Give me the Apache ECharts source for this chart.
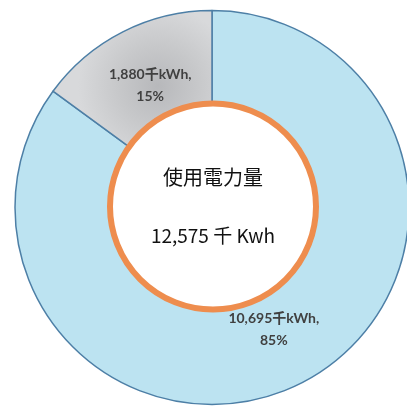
<!DOCTYPE html>
<html>
<head>
<meta charset="utf-8">
<script src="https://cdn.jsdelivr.net/npm/echarts@6/dist/echarts.min.js"></script>
<style>
  html, body { margin: 0; padding: 0; background: #ffffff; }
  #chart { width: 407px; height: 408px; }
</style>
</head>
<body>
<div id="chart"></div>
<script>
// Electricity use split into two sources (thousand kWh)
const categories = ['その他', '購入電力'];
const usage = [10695, 1880];
const centerTitle = '使用電力量';
const unitLabel = '千 Kwh';

const total = usage.reduce((a, b) => a + b, 0);
const fmt = n => n.toLocaleString('en-US');

// soft shading on the grey slice, in canvas pixels
const sliceColors = [
  '#bce3f1',
  {
    type: 'radial', x: 158, y: 86, r: 80, global: true,
    colorStops: [
      { offset: 0, color: '#b7b8bb' },
      { offset: 0.5, color: '#c7c8ca' },
      { offset: 1, color: '#d8d9db' }
    ]
  }
];

const chart = echarts.init(document.getElementById('chart'), null, { renderer: 'canvas' });
chart.setOption({
  animation: false,
  backgroundColor: '#ffffff',
  series: [
    {
      type: 'pie',
      center: [212, 207.5],
      radius: [70, 197],
      startAngle: 90,
      clockwise: true,
      percentPrecision: 0,
      silent: true,
      itemStyle: { borderColor: '#4d7fa6', borderWidth: 1.5 },
      label: {
        show: true,
        position: 'inside',
        color: '#404040',
        fontFamily: 'Lato, "Noto Sans CJK JP", sans-serif',
        fontWeight: 'bold',
        fontSize: 14,
        lineHeight: 22,
        formatter: p => fmt(p.value) + '千kWh,\n' + p.percent + '%'
      },
      labelLine: { show: false },
      data: categories.map((name, i) => ({
        name,
        value: usage[i],
        itemStyle: { color: sliceColors[i] }
      }))
    },
    {
      type: 'pie',
      center: [213, 206.5],
      radius: [0, 103],
      silent: true,
      itemStyle: { color: '#ffffff', borderColor: '#ee8d4e', borderWidth: 6 },
      label: {
        show: true,
        position: 'center',
        formatter: '{t|' + centerTitle + '}\n{v|' + fmt(total) + ' ' + unitLabel + '}',
        rich: {
          t: {
            fontFamily: '"Noto Sans CJK JP", sans-serif',
            fontSize: 20, color: '#111111', lineHeight: 58
          },
          v: {
            fontFamily: '"Noto Sans CJK JP", sans-serif',
            fontSize: 19, color: '#111111', lineHeight: 58
          }
        }
      },
      labelLine: { show: false },
      data: [{ name: centerTitle, value: total }]
    }
  ]
});
</script>
</body>
</html>
